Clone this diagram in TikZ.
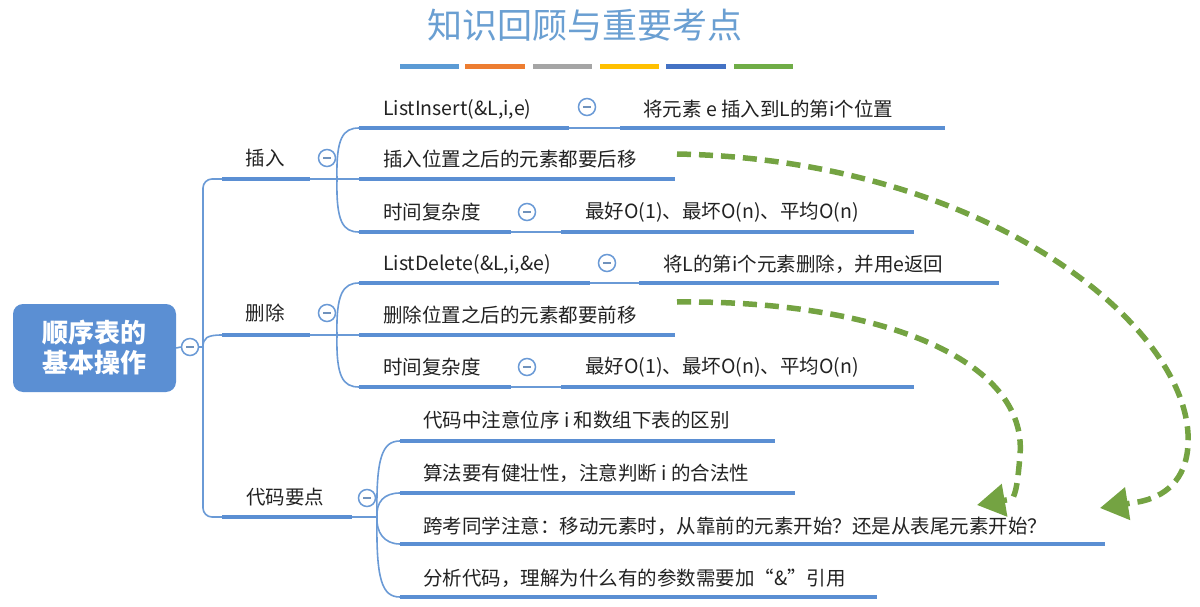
\documentclass[tikz,border=0pt]{standalone}
\usepackage{fontspec}
\setmainfont{Noto Sans CJK SC}
\usetikzlibrary{arrows.meta}
\definecolor{br}{HTML}{5B8FD3}
\definecolor{thin}{HTML}{6A9AD6}
\definecolor{gr}{HTML}{74A342}
\definecolor{ttl}{HTML}{6A9FD2}
\definecolor{txt}{HTML}{222222}
\definecolor{c1}{HTML}{5B9BD5}
\definecolor{c2}{HTML}{ED7D31}
\definecolor{c3}{HTML}{A5A5A5}
\definecolor{c4}{HTML}{FFC000}
\definecolor{c5}{HTML}{4472C4}
\definecolor{c6}{HTML}{70AD47}
\begin{document}
\begin{tikzpicture}[x=1pt,y=-1pt,
 bar/.style={line width=4.5pt, draw=br},
 link/.style={line width=1.6pt, draw=thin},
 lbl/.style={font=\fontsize{19.5}{22}\selectfont, text=txt, inner sep=0pt, anchor=west},
 tog/.style={circle, draw=thin, line width=1.5pt, fill=white, minimum size=17pt, inner sep=0pt,
   path picture={\draw[line width=1.3pt, draw=thin!70!gray] ([xshift=-4pt]path picture bounding box.center) -- ([xshift=4pt]path picture bounding box.center);}},
 mv/.style={draw=gr, line width=5.5pt, dash pattern=on 14pt off 8pt, -{Triangle[length=28pt,width=32pt]}}
]
\useasboundingbox (0,0) rectangle (1200,607);
\fill[white] (0,0) rectangle (1200,607);

% title
\node[font=\fontsize{35}{40}\selectfont, text=ttl, inner sep=0pt] (title) at (585,25) {知识回顾与重要考点};
\fill[c1] (400,64) rectangle (459,69);
\fill[c2] (465,64) rectangle (525,69);
\fill[c3] (533,64) rectangle (592,69);
\fill[c4] (600,64) rectangle (659,69);
\fill[c5] (666,64) rectangle (726,69);
\fill[c6] (734,64) rectangle (793,69);

% root
\node[fill=br, rounded corners=10pt, minimum width=163pt, minimum height=88pt, text=white,
  font=\bfseries\fontsize{26}{30}\selectfont, align=center, inner sep=0pt] (root) at (94.5,348) {顺序表的\\基本操作};
\node[tog] (t0) at (190,347) {};
\draw[link] (root.east) -- (t0.west);
\coordinate (sp) at (203,347);
\draw[link] (t0.east) -- (sp);
\draw[link, rounded corners=9pt] (222,179) -- (203,179) -- (203,517) -- (222,517);
\draw[link] (sp) .. controls (203,338) and (207,335) .. (222,335);

% level 1
\node[lbl, anchor=center] (ins) at (265,158) {插入};
\node[lbl, anchor=center] (del) at (265,313) {删除};
\node[lbl, anchor=center] (code) at (285,497) {代码要点};
\draw[bar] (222,179) -- (310,179);
\draw[bar] (222,335) -- (310,335);
\draw[bar] (222,517) -- (352,517);
\node[tog] (t1) at (327,158) {};
\node[tog] (t2) at (327,313) {};
\node[tog] (t3) at (367,498) {};

% insert group
\coordinate (f1) at (337,179);
\draw[link] (310,179) -- (f1);
\draw[link] (f1) .. controls (336,138) and (343,128) .. (359,128);
\draw[link] (f1) -- (359,179);
\draw[link] (f1) .. controls (336,222) and (343,232) .. (359,232);
\node[lbl] (i1) at (383,109) {ListInsert(\&L,i,e)};
\draw[bar] (359,128) -- (569,128);
\draw[link] (569,128) -- (620,128);
\draw[bar] (620,128) -- (945,128);
\node[tog] (ti1) at (587,107) {};
\node[lbl] (i1d) at (643,109) {将元素 e 插入到L的第i个位置};
\node[lbl] (i2) at (383,159) {插入位置之后的元素都要后移};
\draw[bar] (359,179) -- (675,179);
\node[lbl] (i3) at (383,212) {时间复杂度};
\draw[bar] (359,232) -- (511,232);
\draw[link] (511,232) -- (561,232);
\draw[bar] (561,232) -- (914,232);
\node[tog] (ti3) at (527,212) {};
\node[lbl] (i3d) at (585,212) {最好O(1)、最坏O(n)、平均O(n)};

% delete group
\coordinate (f2) at (337,335);
\draw[link] (310,335) -- (f2);
\draw[link] (f2) .. controls (336,294) and (343,283) .. (359,283);
\draw[link] (f2) -- (359,335);
\draw[link] (f2) .. controls (336,377) and (343,387) .. (359,387);
\node[lbl] (d1) at (383,264) {ListDelete(\&L,i,\&e)};
\draw[bar] (359,283) -- (590,283);
\draw[link] (590,283) -- (639,283);
\draw[bar] (639,283) -- (999,283);
\node[tog] (td1) at (607,263) {};
\node[lbl] (d1d) at (663,264) {将L的第i个元素删除，并用e返回};
\node[lbl] (d2) at (383,315) {删除位置之后的元素都要前移};
\draw[bar] (359,335) -- (675,335);
\node[lbl] (d3) at (383,367) {时间复杂度};
\draw[bar] (359,387) -- (511,387);
\draw[link] (511,387) -- (561,387);
\draw[bar] (561,387) -- (914,387);
\node[tog] (td3) at (527,367) {};
\node[lbl] (d3d) at (585,367) {最好O(1)、最坏O(n)、平均O(n)};

% code group
\coordinate (f3) at (377,517);
\draw[link] (352,517) -- (f3);
\draw[link] (f3) .. controls (376,458) and (382,441) .. (400,441);
\draw[link] (f3) .. controls (376,502) and (384,493) .. (400,493);
\draw[link] (f3) .. controls (376,532) and (384,544) .. (400,544);
\draw[link] (f3) .. controls (376,580) and (382,597) .. (400,597);
\node[lbl] (k1) at (423,420) {代码中注意位序 i 和数组下表的区别};
\draw[bar] (400,441) -- (775,441);
\node[lbl] (k2) at (423,473) {算法要有健壮性，注意判断 i 的合法性};
\draw[bar] (400,493) -- (795,493);
\node[lbl] (k3) at (423,526) {跨考同学注意：移动元素时，从靠前的元素开始？还是从表尾元素开始？};
\draw[bar] (400,544) -- (1105,544);
\node[lbl] (k4) at (423,578) {分析代码，理解为什么有的参数需要加“\&”引用};
\draw[bar] (400,597) -- (877,597);

% green dashed arrows
\coordinate (a1s) at (677,154);
\coordinate (a1e) at (1100,508);
\coordinate (a2s) at (677,302);
\coordinate (a2e) at (977,505);
\draw[mv] (a1s) .. controls (990,160) and (1195,330) .. (1188,445)
  .. controls (1186,480) and (1165,497) .. (1138,502) -- (a1e);
\draw[mv] (a2s) .. controls (880,300) and (1028,360) .. (1020,455)
  .. controls (1018,480) and (1016,494) .. (1012,499) -- (a2e);
\end{tikzpicture}
\end{document}
